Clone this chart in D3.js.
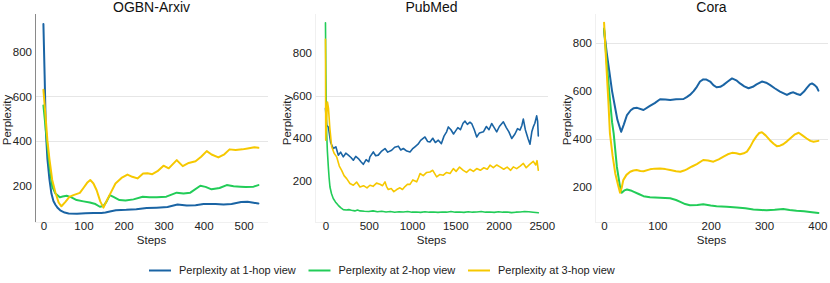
<!DOCTYPE html>
<meta charset="utf-8">
<style>
body { margin: 0; background: #fff; }
svg { font-family: "Liberation Sans", Arial, sans-serif; }
.tick text { fill: #222; font-size: 11.5px; }
.title { font-size: 14px; fill: #111; }
.axis-label { font-size: 11.5px; fill: #222; }
.legend text { font-size: 11px; fill: #222; }
.series { fill: none; stroke-linejoin: round; stroke-linecap: round; }
</style>
<svg width="830" height="283"></svg>
<script src="https://cdn.jsdelivr.net/npm/d3@7"></script>
<script>

// ---- data (step, perplexity) ----
const seriesNames = ["Perplexity at 1-hop view", "Perplexity at 2-hop view", "Perplexity at 3-hop view"];
const colours = ["#1a64a4", "#22cc58", "#f6c800"];

const arxivHop1 = [[0,925],[3,700],[6,450],[10,320],[15,230],[20,165],[25,132],[30,115],[36,100],[42,90],[53,80],[63,76],[84,75],[105,77],[125,78],[145,78],[155,80],[166,85],[181,90],[207,92],[232,95],[258,100],[283,102],[310,105],[335,116],[358,111],[380,113],[400,118],[430,118],[450,116],[470,118],[494,127],[510,128],[525,124],[537,120]];
const arxivHop2 = [[0,560],[5,470],[10,375],[15,290],[22,196],[30,165],[41,148],[48,152],[58,155],[70,148],[83,136],[100,130],[116,125],[130,118],[141,106],[150,109],[158,130],[166,158],[175,150],[190,136],[205,134],[225,139],[248,151],[265,148],[283,148],[307,151],[333,169],[350,165],[367,169],[392,200],[405,195],[420,184],[440,190],[458,203],[475,198],[492,196],[505,194],[525,196],[537,203]];
const arxivHop3 = [[0,630],[5,520],[10,402],[15,320],[22,226],[30,170],[38,125],[45,108],[55,128],[65,150],[75,158],[91,168],[100,190],[110,215],[117,226],[125,210],[133,180],[142,130],[150,102],[160,140],[170,175],[180,210],[195,235],[210,250],[222,240],[235,233],[249,255],[260,256],[272,252],[285,265],[300,290],[313,278],[333,315],[348,288],[363,302],[380,310],[394,330],[408,355],[420,340],[437,327],[452,341],[465,363],[480,360],[497,363],[510,367],[527,372],[537,370]];

const pubmedHop1 = [[0,540],[14,461],[33,453],[60,380],[90,352],[120,360],[148,321],[175,335],[206,313],[235,330],[264,321],[295,310],[322,297],[350,315],[380,305],[410,290],[437,278],[470,300],[500,290],[514,313],[553,336],[580,318],[610,321],[650,340],[688,352],[720,335],[765,344],[800,358],[842,363],[870,345],[900,352],[940,340],[977,336],[1005,350],[1034,360],[1070,372],[1100,390],[1150,406],[1180,385],[1208,383],[1240,400],[1270,380],[1304,391],[1340,375],[1370,410],[1400,430],[1420,453],[1450,440],[1480,420],[1497,430],[1530,450],[1560,440],[1590,470],[1613,480],[1640,465],[1670,475],[1690,469],[1720,440],[1748,406],[1780,425],[1825,430],[1860,455],[1890,440],[1921,469],[1950,450],[1979,430],[2010,455],[2056,477],[2090,450],[2120,430],[2153,399],[2190,420],[2220,445],[2248,438],[2270,460],[2287,490],[2310,440],[2340,400],[2364,372],[2385,430],[2402,453],[2420,470],[2441,505],[2452,480],[2460,411]];
const pubmedHop2 = [[0,941],[5,700],[10,520],[14,422],[22,340],[33,266],[42,215],[52,172],[70,140],[90,118],[115,102],[148,86],[175,75],[206,66],[240,64],[270,66],[300,63],[340,60],[370,64],[400,60],[450,58],[500,57],[550,60],[600,56],[650,58],[700,55],[750,57],[800,54],[850,56],[900,55],[950,57],[1000,54],[1050,55],[1100,53],[1150,56],[1200,54],[1250,55],[1300,53],[1350,55],[1400,54],[1450,57],[1500,54],[1550,55],[1600,53],[1650,56],[1700,54],[1750,55],[1800,57],[1850,54],[1900,55],[1950,53],[2000,56],[2050,54],[2100,55],[2150,52],[2200,54],[2250,55],[2300,57],[2350,56],[2400,54],[2460,51]];
const pubmedHop3 = [[0,863],[3,391],[12,480],[23,570],[35,540],[50,450],[72,360],[100,330],[129,313],[160,270],[187,250],[215,225],[245,211],[283,188],[322,180],[360,195],[399,172],[440,178],[480,168],[514,180],[550,175],[590,190],[630,185],[660,178],[688,196],[705,175],[726,160],[760,165],[790,150],[823,160],[861,168],[890,160],[919,174],[950,185],[977,184],[1010,205],[1054,196],[1075,215],[1093,235],[1130,225],[1170,240],[1208,242],[1240,250],[1285,219],[1320,230],[1362,227],[1400,240],[1440,235],[1478,258],[1510,245],[1550,265],[1593,250],[1630,240],[1670,255],[1710,245],[1748,258],[1790,250],[1830,262],[1870,255],[1902,274],[1940,262],[1980,275],[2017,266],[2060,255],[2100,265],[2140,250],[2171,266],[2210,258],[2250,270],[2287,282],[2320,262],[2360,278],[2402,292],[2430,275],[2445,295],[2460,250]];

const coraHop1 = [[0,855],[5,760],[10,680],[15,600],[20,540],[25,480],[32,430],[37,460],[43,500],[50,520],[55,528],[62,530],[74,521],[86,538],[95,550],[105,566],[115,565],[124,563],[135,566],[149,567],[155,575],[161,584],[168,600],[174,618],[180,640],[186,649],[192,648],[199,640],[205,625],[211,616],[218,618],[224,626],[232,640],[240,653],[248,645],[255,632],[263,620],[271,612],[279,618],[286,628],[296,640],[304,635],[311,626],[320,612],[330,598],[343,584],[350,592],[355,595],[362,588],[368,584],[375,598],[380,612],[386,628],[390,632],[395,625],[399,616],[402,602]];
const coraHop2 = [[0,862],[5,720],[10,590],[15,470],[18,423],[24,284],[30,200],[33,175],[38,185],[43,189],[50,185],[55,180],[65,170],[74,161],[86,156],[105,154],[124,152],[135,145],[143,137],[152,128],[161,123],[175,124],[186,127],[200,122],[211,119],[230,117],[249,114],[265,110],[280,105],[295,103],[305,102],[320,104],[336,107],[348,103],[361,100],[375,98],[390,94],[402,91]];
const coraHop3 = [[0,886],[4,720],[8,560],[11,423],[16,330],[21,256],[26,210],[30,175],[33,195],[36,228],[42,250],[49,263],[55,268],[61,270],[68,266],[74,265],[86,273],[95,276],[105,277],[115,274],[124,270],[135,265],[143,263],[150,268],[155,273],[165,285],[174,295],[186,312],[195,310],[205,305],[215,315],[224,326],[232,336],[240,342],[248,340],[255,336],[262,340],[268,347],[274,367],[280,392],[286,412],[291,425],[296,428],[303,415],[311,395],[318,380],[324,370],[330,372],[336,378],[343,390],[349,402],[357,418],[365,426],[372,415],[380,402],[387,392],[393,388],[402,392]];

const titles = ["OGBN-Arxiv", "PubMed", "Cora"];
const yTicks = [200, 400, 600, 800];
const xTicks = [[0,100,200,300,400,500], [0,500,1000,1500,2000,2500], [0,100,200,300,400]];

// ---- layout ----
const panelLeft = [35, 315, 595];
const panelWidth = 233;
const plotTop = 15, plotBottom = 222;
const xDomains = [[-21, 561], [-121, 2572], [-17, 420]];
const yDomains = [[37.6, 965], [8, 977], [53, 918]];
const gridAt = [[400, 600], [600], [400, 800]];
const lineWidth = [2, 1.6, 2];

const svg = d3.select("svg");
const allSeries = [
  [arxivHop1, arxivHop2, arxivHop3],
  [pubmedHop1, pubmedHop2, pubmedHop3],
  [coraHop1, coraHop2, coraHop3]
];

titles.forEach(function(title, i) {
  const x = d3.scaleLinear().domain(xDomains[i]).range([panelLeft[i], panelLeft[i] + panelWidth]);
  const y = d3.scaleLinear().domain(yDomains[i]).range([plotBottom, plotTop]);
  const g = svg.append("g");

  // gridlines
  g.selectAll(".grid").data(gridAt[i]).enter().append("line")
    .attr("x1", panelLeft[i]).attr("x2", panelLeft[i] + panelWidth)
    .attr("y1", function(d) { return Math.round(y(d)) + 0.5; })
    .attr("y2", function(d) { return Math.round(y(d)) + 0.5; })
    .attr("stroke", "#e6e6e6");

  // bottom baseline and left edge
  g.append("line")
    .attr("x1", panelLeft[i]).attr("x2", panelLeft[i] + panelWidth)
    .attr("y1", plotBottom + 0.5).attr("y2", plotBottom + 0.5)
    .attr("stroke", "#f0f0f0");
  g.append("line")
    .attr("x1", panelLeft[i] + 0.5).attr("x2", panelLeft[i] + 0.5)
    .attr("y1", plotTop - 1).attr("y2", plotBottom)
    .attr("stroke", i === 0 ? "#8a8a8a" : "#f0f0f0");

  // axes (labels only)
  const yAxis = g.append("g")
    .attr("transform", "translate(" + panelLeft[i] + ",0)")
    .call(d3.axisLeft(y).tickValues(yTicks).tickSize(0).tickPadding(3));
  yAxis.select(".domain").remove();

  const xAxis = g.append("g")
    .attr("transform", "translate(0," + plotBottom + ")")
    .call(d3.axisBottom(x).tickValues(xTicks[i]).tickFormat(d3.format("d")).tickSize(0).tickPadding(0));
  xAxis.select(".domain").remove();
  xAxis.selectAll("text").attr("dy", "0.68em");

  // series
  allSeries[i].forEach(function(data, k) {
    g.append("path")
      .datum(data)
      .attr("class", "series")
      .attr("stroke", colours[k])
      .attr("stroke-width", lineWidth[i])
      .attr("d", d3.line()
        .x(function(d) { return x(d[0]); })
        .y(function(d) { return y(d[1]); }));
  });

  // titles and axis labels
  g.append("text").attr("class", "title")
    .attr("x", panelLeft[i] + panelWidth / 2).attr("y", 12)
    .attr("text-anchor", "middle").text(title);
  g.append("text").attr("class", "axis-label")
    .attr("x", panelLeft[i] + panelWidth / 2).attr("y", 244)
    .attr("text-anchor", "middle").text("Steps");
  g.append("text").attr("class", "axis-label")
    .attr("transform", "translate(" + (panelLeft[i] - 28) + ",120) rotate(-90)")
    .attr("dy", "0.35em")
    .attr("text-anchor", "middle").text("Perplexity");
});

// legend
const legend = svg.append("g").attr("class", "legend")
  .attr("transform", "translate(149,270.5)");
const item = legend.selectAll("g").data(seriesNames).enter().append("g")
  .attr("transform", function(d, k) { return "translate(" + (k * 159.5) + ",0)"; });
item.append("line")
  .attr("x1", 0).attr("x2", 22).attr("y1", 0).attr("y2", 0)
  .attr("stroke", function(d, k) { return colours[k]; })
  .attr("stroke-width", 2);
item.append("text")
  .attr("x", 30).attr("dy", "0.35em")
  .text(function(d) { return d; });

</script>
